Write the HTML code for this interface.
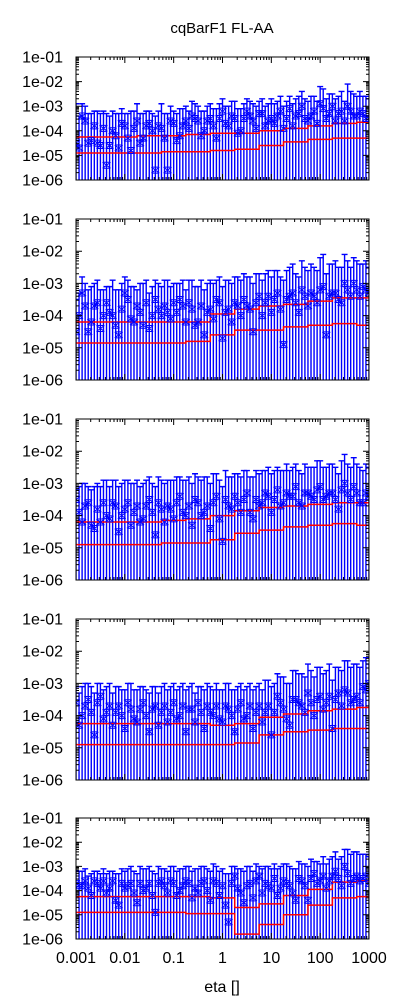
<!DOCTYPE html>
<html><head><meta charset="utf-8">
<style>
html,body{margin:0;padding:0;background:#fff;}
svg{display:block;font-family:"Liberation Sans",sans-serif;}
</style></head>
<body>
<svg id="chart" width="400" height="1000" viewBox="0 0 400 1000">
<text x="222" y="33" font-size="15" text-anchor="middle" fill="#000">cqBarF1 FL-AA</text>
<text x="222" y="992" font-size="16" text-anchor="middle" fill="#000">eta []</text>
</svg>
<script>
// eta grid (log10 exponent)
const etaExp = [-3,-2.875,-2.75,-2.625,-2.5,-2.375,-2.25,-2.125,-2,-1.875,-1.75,-1.625,-1.5,-1.375,-1.25,-1.125,-1,-0.875,-0.75,-0.625,-0.5,-0.375,-0.25,-0.125,0,0.125,0.25,0.375,0.5,0.625,0.75,0.875,1,1.125,1.25,1.375,1.5,1.625,1.75,1.875,2,2.125,2.25,2.375,2.5,2.625,2.75,2.875,3];
const etaExpB = [-2.9375,-2.8125,-2.6875,-2.5625,-2.4375,-2.3125,-2.1875,-2.0625,-1.9375,-1.8125,-1.6875,-1.5625,-1.4375,-1.3125,-1.1875,-1.0625,-0.9375,-0.8125,-0.6875,-0.5625,-0.4375,-0.3125,-0.1875,-0.0625,0.0625,0.1875,0.3125,0.4375,0.5625,0.6875,0.8125,0.9375,1.0625,1.1875,1.3125,1.4375,1.5625,1.6875,1.8125,1.9375,2.0625,2.1875,2.3125,2.4375,2.5625,2.6875,2.8125,2.9375];
const lineExp = [-3,-2.5,-2,-1.5,-1,-0.5,0,0.5,1,1.5,2,2.5,3];
const xTickLabels = ["0.001","0.01","0.1","1","10","100","1000"];
const xTickExp = [-3,-2,-1,0,1,2,3];
const yTickLabels = ["1e-06","1e-05","1e-04","1e-03","1e-02","1e-01"];
const yTickExp = [-6,-5,-4,-3,-2,-1];

const vals1 = [-4.5,-3.4,-4.5,-3.8,-4.6,-5.4,-4.0,-4.7,-3.8,-4.8,-3.6,-4.3,-3.7,-5.6,-3.9,-5.6,-3.7,-4.2,-3.6,-3.4,-3.6,-4.0,-3.5,-4.3,-3.2,-3.8,-3.5,-4.0,-3.2,-3.6,-3.3,-3.8,-3.5,-3.4,-3.9,-3.1,-3.4,-3.0,-3.6,-3.2,-2.9,-3.5,-3.0,-3.3,-3.6,-3.2,-3.4,-3.3,-3.5];
const up1 = [-2.9,-2.9,-3.3,-3.2,-3.3,-3.3,-3.2,-3.3,-3.3,-3.2,-2.9,-3.3,-3.2,-3.4,-2.9,-3.3,-3.2,-3.1,-3.0,-2.8,-3.0,-3.2,-2.9,-3.1,-2.7,-3.0,-2.8,-3.1,-2.7,-2.9,-2.8,-3.0,-2.7,-2.8,-3.0,-2.6,-2.7,-2.4,-2.8,-2.6,-2.2,-2.7,-2.5,-2.6,-2.8,-2.4,-2.6,-2.6,-2.7];
const vals1b = [-4.7,-3.6,-4.4,-4.5,-3.9,-4.6,-4.2,-3.7,-4.3,-3.9,-4.5,-3.8,-4.0,-3.8,-4.3,-3.6,-4.4,-3.8,-3.9,-3.5,-4.2,-3.6,-3.8,-3.5,-3.7,-3.4,-4.1,-3.5,-3.4,-3.9,-3.3,-3.6,-3.7,-3.2,-3.5,-3.8,-3.3,-3.5,-3.4,-3.7,-3.1,-3.3,-3.6,-3.2,-3.0,-3.4,-3.2,-3.5];
const up1b = [-3.4,-3.0,-3.3,-3.2,-3.2,-3.4,-3.3,-3.1,-3.3,-3.2,-3.3,-3.2,-3.3,-3.2,-3.3,-3.0,-3.3,-3.1,-3.2,-2.9,-3.2,-3.0,-3.1,-2.9,-3.0,-2.8,-3.1,-2.9,-2.8,-3.0,-2.7,-2.9,-2.9,-2.6,-2.8,-2.9,-2.6,-2.7,-2.6,-2.8,-2.3,-2.5,-2.7,-2.4,-2.1,-2.5,-2.4,-2.6];
const hi1 = [-4.25,-4.25,-4.25,-4.2,-4.2,-4.15,-4.1,-4.1,-4.0,-3.9,-3.8,-3.7,-3.65];
const lo1 = [-4.9,-4.9,-4.9,-4.9,-4.85,-4.85,-4.8,-4.75,-4.6,-4.45,-4.35,-4.3,-4.3];

const vals2 = [-4.5,-3.3,-4.5,-3.7,-4.4,-3.6,-4.0,-4.6,-3.3,-4.1,-3.7,-4.3,-4.4,-3.5,-4.0,-3.9,-3.6,-3.5,-4.2,-3.8,-4.2,-4.6,-3.8,-3.5,-4.7,-3.8,-3.6,-4.0,-3.7,-4.5,-3.4,-3.6,-3.9,-3.3,-4.9,-3.4,-3.6,-3.2,-3.7,-3.4,-3.2,-4.6,-3.3,-3.5,-3.0,-3.4,-3.2,-3.1,-3.3];
const up2 = [-3.5,-2.8,-3.2,-3.0,-3.2,-3.1,-2.9,-3.2,-2.8,-3.1,-3.2,-3.0,-3.3,-2.9,-3.1,-2.9,-3.0,-3.0,-3.2,-2.9,-3.1,-3.2,-2.9,-2.9,-3.1,-2.9,-2.8,-2.9,-2.8,-3.0,-2.7,-2.7,-2.8,-2.6,-2.9,-2.5,-2.7,-2.3,-2.6,-2.5,-2.2,-2.7,-2.4,-2.5,-2.1,-2.5,-2.3,-2.4,-2.5];
const vals2b = [-4.0,-3.7,-4.2,-3.6,-4.0,-3.9,-4.3,-3.8,-3.5,-4.2,-3.9,-3.6,-4.0,-3.8,-3.7,-4.1,-3.9,-3.7,-3.6,-4.3,-3.7,-3.9,-4.1,-3.6,-3.9,-4.2,-3.7,-3.5,-3.8,-3.6,-4.0,-3.4,-3.5,-3.8,-3.5,-3.3,-3.9,-3.4,-3.3,-3.6,-3.1,-3.4,-3.3,-3.6,-3.2,-3.0,-3.4,-3.2];
const up2b = [-3.3,-3.0,-3.1,-2.9,-3.2,-3.1,-3.2,-3.0,-2.9,-3.1,-3.0,-2.9,-3.1,-3.0,-2.9,-3.1,-3.0,-2.9,-2.9,-3.1,-2.9,-3.0,-3.0,-2.8,-2.9,-3.0,-2.8,-2.7,-2.8,-2.7,-2.9,-2.6,-2.6,-2.8,-2.6,-2.4,-2.8,-2.5,-2.4,-2.6,-2.1,-2.4,-2.3,-2.5,-2.3,-2.2,-2.4,-2.3];
const hi2 = [-4.2,-4.2,-4.2,-4.2,-4.2,-4.2,-3.95,-3.8,-3.7,-3.65,-3.55,-3.45,-3.45];
const lo2 = [-4.85,-4.85,-4.85,-4.85,-4.85,-4.8,-4.6,-4.45,-4.45,-4.35,-4.3,-4.25,-4.3];

const vals3 = [-3.5,-4.2,-3.6,-4.4,-4.2,-4.0,-3.6,-4.5,-3.8,-4.3,-3.7,-4.1,-3.5,-4.6,-3.8,-3.7,-4.1,-3.4,-4.0,-4.3,-3.6,-3.9,-4.4,-3.4,-4.8,-3.7,-3.4,-3.9,-3.3,-4.1,-3.7,-3.3,-3.9,-3.2,-3.6,-3.4,-3.1,-3.7,-3.3,-3.5,-3.1,-3.4,-3.3,-3.8,-3.0,-3.5,-3.3,-3.6,-3.4];
const up3 = [-3.2,-3.0,-3.1,-3.1,-3.1,-2.9,-2.9,-3.1,-2.9,-3.0,-2.9,-3.0,-2.8,-3.1,-2.9,-2.9,-2.9,-2.8,-2.9,-3.0,-2.8,-2.8,-3.0,-2.7,-3.1,-2.8,-2.7,-2.8,-2.6,-2.8,-2.7,-2.6,-2.7,-2.5,-2.6,-2.6,-2.4,-2.7,-2.5,-2.5,-2.3,-2.5,-2.4,-2.7,-2.1,-2.5,-2.4,-2.6,-2.5];
const vals3b = [-3.9,-3.7,-4.3,-3.8,-3.6,-4.1,-3.7,-4.0,-3.6,-3.9,-4.2,-3.7,-3.9,-3.6,-4.2,-3.8,-3.6,-3.9,-3.7,-3.5,-4.0,-3.7,-3.6,-4.1,-3.5,-3.8,-3.6,-3.5,-3.9,-3.5,-3.6,-3.4,-3.5,-3.7,-3.3,-3.4,-3.6,-3.3,-3.4,-3.2,-3.5,-3.3,-3.5,-3.2,-3.3,-3.1,-3.6,-3.3];
const up3b = [-3.1,-3.0,-3.2,-3.0,-2.9,-3.1,-2.9,-3.0,-2.9,-3.0,-3.1,-2.9,-3.0,-2.8,-3.0,-2.9,-2.8,-2.9,-2.8,-2.7,-2.9,-2.8,-2.7,-2.9,-2.6,-2.8,-2.7,-2.6,-2.8,-2.6,-2.6,-2.5,-2.6,-2.6,-2.4,-2.5,-2.6,-2.4,-2.5,-2.3,-2.5,-2.4,-2.5,-2.3,-2.4,-2.2,-2.5,-2.4];
const hi3 = [-4.2,-4.2,-4.2,-4.2,-4.15,-4.1,-4.0,-3.85,-3.75,-3.7,-3.65,-3.6,-3.6];
const lo3 = [-4.9,-4.9,-4.9,-4.9,-4.85,-4.85,-4.75,-4.55,-4.45,-4.35,-4.3,-4.25,-4.3];

const vals4 = [-3.6,-4.0,-3.5,-4.6,-3.4,-3.9,-4.3,-3.7,-4.4,-3.8,-4.2,-3.6,-4.5,-3.7,-3.9,-4.2,-3.6,-4.0,-4.5,-3.8,-3.6,-4.4,-3.9,-3.7,-4.2,-3.8,-4.5,-3.6,-4.0,-4.4,-3.7,-3.9,-4.6,-3.4,-3.8,-4.3,-3.5,-3.7,-3.3,-4.0,-3.4,-3.6,-4.4,-3.3,-3.2,-3.6,-3.4,-3.1,-3.0];
const up4 = [-3.1,-3.1,-3.0,-3.3,-3.0,-3.1,-3.3,-3.1,-3.2,-3.0,-3.2,-3.1,-3.3,-3.1,-3.1,-3.2,-3.0,-3.1,-3.2,-3.0,-3.1,-3.2,-3.1,-3.0,-3.2,-3.0,-3.2,-3.0,-3.1,-3.2,-3.0,-2.9,-3.1,-2.7,-2.8,-3.0,-2.6,-2.7,-2.4,-2.8,-2.5,-2.6,-2.9,-2.5,-2.3,-2.5,-2.4,-2.3,-2.4];
const vals4b = [-4.3,-3.7,-3.9,-3.6,-4.1,-3.7,-3.9,-4.0,-3.6,-4.1,-3.8,-4.0,-3.8,-4.3,-3.7,-3.9,-4.1,-3.7,-3.8,-4.2,-3.9,-3.7,-4.0,-4.1,-3.7,-4.0,-3.8,-4.1,-3.7,-3.9,-4.2,-3.7,-3.9,-3.6,-4.1,-3.5,-3.6,-3.9,-3.6,-3.5,-3.8,-3.4,-3.5,-3.7,-3.3,-3.5,-3.6,-3.2];
const up4b = [-3.3,-3.0,-3.1,-3.0,-3.2,-3.0,-3.1,-3.2,-3.0,-3.2,-3.1,-3.2,-3.1,-3.3,-3.0,-3.1,-3.2,-3.0,-3.1,-3.3,-3.1,-3.0,-3.2,-3.2,-3.0,-3.2,-3.1,-3.2,-3.0,-3.1,-3.2,-2.9,-3.0,-2.8,-3.0,-2.6,-2.7,-2.8,-2.6,-2.5,-2.7,-2.4,-2.5,-2.6,-2.3,-2.4,-2.5,-2.2];
const hi4 = [-4.25,-4.25,-4.25,-4.25,-4.25,-4.25,-4.3,-4.25,-4.05,-3.95,-3.85,-3.8,-3.75];
const lo4 = [-4.9,-4.9,-4.9,-4.9,-4.9,-4.9,-4.9,-4.85,-4.6,-4.5,-4.45,-4.4,-4.4];

const vals5 = [-3.7,-3.8,-3.9,-3.6,-3.9,-4.1,-3.6,-4.6,-3.9,-3.7,-4.5,-4.0,-3.7,-4.9,-3.6,-4.1,-3.7,-4.0,-3.6,-4.3,-4.1,-3.6,-4.4,-3.7,-3.8,-5.3,-3.4,-4.1,-3.8,-4.3,-3.4,-3.7,-3.9,-4.2,-3.6,-3.8,-4.4,-3.6,-4.4,-3.3,-3.6,-3.9,-3.4,-3.5,-3.0,-3.7,-3.4,-3.5,-3.7];
const up5 = [-3.2,-3.2,-3.4,-3.2,-3.3,-3.3,-3.2,-3.3,-3.2,-3.0,-3.3,-3.1,-3.0,-3.3,-3.1,-3.2,-3.0,-3.1,-3.0,-3.2,-3.1,-3.0,-3.2,-3.0,-3.1,-3.3,-3.0,-3.1,-3.0,-3.2,-3.0,-3.0,-3.1,-3.1,-2.9,-3.0,-3.1,-2.9,-3.0,-2.8,-2.9,-2.9,-2.6,-2.7,-2.3,-2.5,-2.4,-2.5,-2.6];
const vals5b = [-3.8,-3.6,-4.2,-3.7,-3.6,-3.9,-4.4,-3.7,-3.8,-4.1,-3.7,-3.9,-4.2,-3.7,-3.8,-3.6,-4.2,-3.8,-3.7,-3.9,-3.7,-4.0,-3.6,-4.2,-4.6,-3.7,-3.9,-4.5,-3.7,-3.6,-4.1,-3.8,-3.5,-3.9,-3.7,-4.1,-3.5,-3.8,-3.5,-3.7,-3.4,-3.6,-3.2,-3.8,-3.3,-3.5,-3.6,-3.4];
const up5b = [-3.2,-3.1,-3.3,-3.2,-3.1,-3.2,-3.3,-3.1,-3.1,-3.2,-3.0,-3.1,-3.2,-3.0,-3.1,-3.0,-3.2,-3.1,-3.0,-3.1,-3.0,-3.1,-2.9,-3.2,-3.3,-3.0,-3.1,-3.2,-3.0,-2.9,-3.1,-3.0,-2.9,-3.0,-2.9,-3.1,-2.8,-2.9,-2.7,-2.8,-2.6,-2.7,-2.4,-2.6,-2.3,-2.4,-2.5,-2.5];
const hi5 = [-4.25,-4.25,-4.25,-4.25,-4.25,-4.25,-4.3,-4.7,-4.55,-4.2,-3.95,-3.65,-3.6];
const lo5 = [-4.9,-4.9,-4.9,-4.9,-4.9,-4.95,-4.95,-5.8,-5.4,-5.0,-4.6,-4.3,-4.25];

const panels = [
  {vals:vals1, up:up1, valsB:vals1b, upB:up1b, hi:hi1, lo:lo1, top:57, bot:180, name:'panel-1'},
  {vals:vals2, up:up2, valsB:vals2b, upB:up2b, hi:hi2, lo:lo2, top:219, bot:380, name:'panel-2'},
  {vals:vals3, up:up3, valsB:vals3b, upB:up3b, hi:hi3, lo:lo3, top:419, bot:580, name:'panel-3'},
  {vals:vals4, up:up4, valsB:vals4b, upB:up4b, hi:hi4, lo:lo4, top:619, bot:780, name:'panel-4'},
  {vals:vals5, up:up5, valsB:vals5b, upB:up5b, hi:hi5, lo:lo5, top:818, bot:939, name:'panel-5'}
];

const svg = document.getElementById('chart');
const NS = 'http://www.w3.org/2000/svg';
const L = 76, R = 369;
function mk(tag, attrs, parent){
  const e = document.createElementNS(NS, tag);
  for (const k in attrs) e.setAttribute(k, attrs[k]);
  parent.appendChild(e);
  return e;
}
function xs(e){ return L + (e + 3) / 6 * (R - L); }

panels.forEach((p, pi) => {
  const g = mk('g', {}, svg);
  
  
  const ys = v => p.bot - (v + 6) / 5 * (p.bot - p.top);
  const clipId = 'clip' + pi;
  const cp = mk('clipPath', {id: clipId}, g);
  mk('rect', {x: L, y: p.top, width: R - L, height: p.bot - p.top}, cp);
  const data = mk('g', {'clip-path': 'url(#' + clipId + ')'}, g);
  const sets = [[etaExp, p.vals, p.up], [etaExpB, p.valsB, p.upB]];
  // error bars
  sets.forEach(([ex, vv, uu]) => {
    vv.forEach((v, i) => {
      const x = xs(ex[i]);
      const yu = ys(uu[i]);
      const eb = mk('path', {d: `M${x},${p.bot + 2}V${yu}M${x - 3},${yu}H${x + 3}`, stroke: '#0000ff', 'stroke-width': 1.4, fill: 'none'}, data);
      
      
    });
  });
  // red step lines
  [p.hi, p.lo].forEach((arr, k) => {
    let d = '';
    arr.forEach((v, i) => {
      const x0 = xs(lineExp[i] - 0.25), x1 = xs(lineExp[i] + 0.25);
      const y = ys(v);
      d += (i === 0 ? 'M' : 'L') + x0 + ',' + y + 'H' + x1;
    });
    const ln = mk('path', {d: d, stroke: '#ff0000', 'stroke-width': 1.5, fill: 'none'}, data);
    
    
  });
  // markers
  sets.forEach(([ex, vv]) => {
    vv.forEach((v, i) => {
      const x = xs(ex[i]), y = ys(v);
      const m = mk('path', {d: `M${x - 4},${y - 3}L${x + 4},${y + 3}M${x - 4},${y + 3}L${x + 4},${y - 3}M${x - 3},${y - 3}H${x + 3}M${x - 3},${y + 3}H${x + 3}`, stroke: '#0000ff', 'stroke-width': 1, fill: 'none'}, data);
      
      
    });
  });
  // ticks
  let td = '';
  yTickExp.forEach(e => {
    const y = ys(e);
    td += `M${L},${y}h6M${R},${y}h-6`;
    if (e < -1) for (let m = 2; m <= 9; m++) {
      const ym = ys(e + Math.log10(m));
      td += `M${L},${ym}h3M${R},${ym}h-3`;
    }
  });
  xTickExp.forEach(e => {
    const x = xs(e);
    td += `M${x},${p.bot}v-6M${x},${p.top}v6`;
    if (e < 3) for (let m = 2; m <= 9; m++) {
      const xm = xs(e + Math.log10(m));
      td += `M${xm},${p.bot}v-3M${xm},${p.top}v3`;
    }
  });
  mk('path', {d: td, stroke: '#000', 'stroke-width': 1, fill: 'none'}, g);
  const fr = mk('rect', {x: L, y: p.top, width: R - L, height: p.bot - p.top, fill: 'none', stroke: '#000', 'stroke-width': 1}, g);
  
  
  yTickExp.forEach((e, i) => {
    const t = mk('text', {x: 63, y: ys(e) + 5.5, 'font-size': 16, 'text-anchor': 'end', fill: '#000'}, g);
    t.textContent = yTickLabels[i];
    
    
  });
  if (pi === 4) {
    xTickExp.forEach((e, i) => {
      const t = mk('text', {x: xs(e), y: 963, 'font-size': 16, 'text-anchor': 'middle', fill: '#000'}, g);
      t.textContent = xTickLabels[i];
      
      
    });
  }
});
</script>
</body></html>
